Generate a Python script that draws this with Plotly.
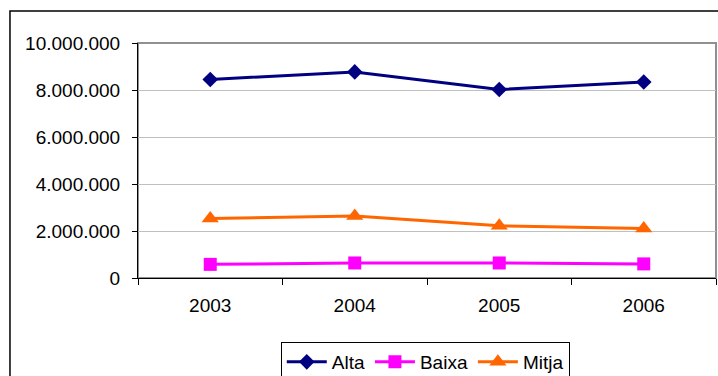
import plotly.graph_objects as go

# Data
years = ["2003", "2004", "2005", "2006"]
alta = [8450000, 8770000, 8020000, 8340000]
baixa = [580000, 640000, 640000, 600000]
mitja = [2530000, 2640000, 2220000, 2110000]

series = [
    ("Alta", alta, "#000080", "diamond", 12),
    ("Baixa", baixa, "#FF00FF", "square", 13),
    ("Mitja", mitja, "#FF6600", "triangle-up", 15),
]

FONT = "Arial, Liberation Sans, sans-serif"

fig = go.Figure()
for name, vals, color, symbol, size in series:
    fig.add_trace(go.Scatter(
        x=years, y=vals, name=name, mode="lines+markers",
        line=dict(color=color, width=3),
        marker=dict(symbol=symbol, size=size, color=color),
    ))

fig.update_layout(
    width=718, height=376,
    margin=dict(l=138, r=2, t=43, b=98, autoexpand=False),
    paper_bgcolor="white", plot_bgcolor="white",
    font=dict(family=FONT, size=19, color="black"),
    separators=",.",
    showlegend=True,
    legend=dict(
        orientation="h", xref="paper", x=0.497, xanchor="center",
        yref="container", y=0.0904, yanchor="top",
        bordercolor="black", borderwidth=1, bgcolor="white",
        font=dict(size=19), itemwidth=40, tracegroupgap=0,
    ),
    xaxis=dict(
        type="category", tickson="boundaries", range=[-0.5, 3.5],
        showgrid=False, showline=True, linecolor="black", linewidth=1,
        ticks="outside", ticklen=6, tickcolor="black",
        ticklabelstandoff=10, zeroline=False,
    ),
    yaxis=dict(
        range=[0, 10000000], tickvals=[0, 2000000, 4000000, 6000000, 8000000, 10000000],
        tickformat=",d",
        showgrid=True, gridcolor="#C0C0C0", gridwidth=1,
        showline=True, linecolor="black", linewidth=1,
        ticks="outside", ticklen=5, tickcolor="black",
        ticklabelstandoff=8, zeroline=False,
    ),
    shapes=[
        # plot area frame (top and right edges show in gray)
        dict(type="rect", xref="paper", yref="paper", x0=0, x1=1, y0=0, y1=1,
             line=dict(color="#909090", width=2), layer="below"),
        # outer chart frame
        dict(type="rect", xref="paper", yref="paper", x0=-0.2215, x1=1.05,
             y0=-0.6, y1=1.136, line=dict(color="black", width=1.5), layer="below"),
    ],
)

fig.write_html("out.html")
